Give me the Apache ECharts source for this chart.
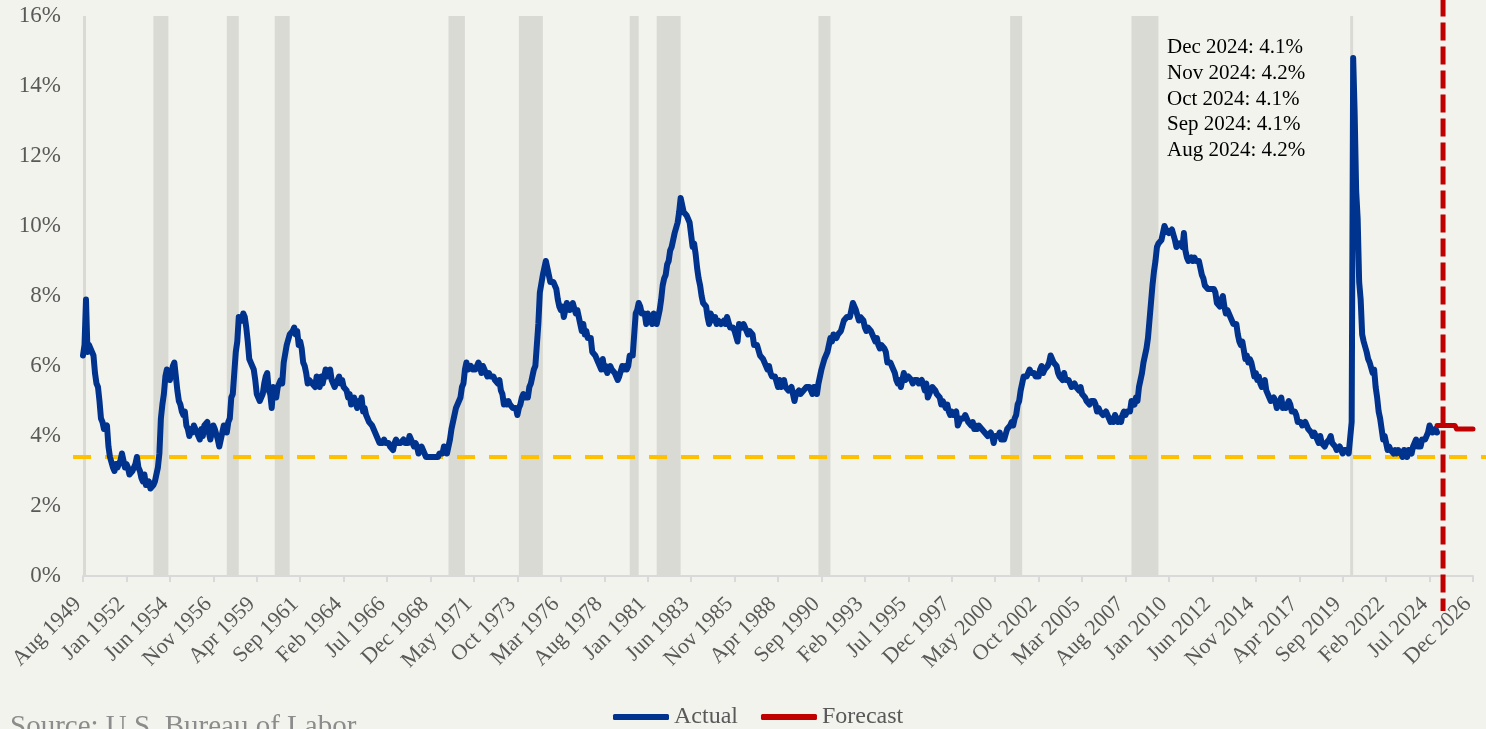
<!DOCTYPE html>
<html>
<head>
<meta charset="utf-8">
<script src="https://cdn.jsdelivr.net/npm/echarts@6/dist/echarts.min.js"></script>
<style>
html, body { margin: 0; padding: 0; background: #f3f3ee; }
#main { width: 1486px; height: 729px; }
</style>
</head>
<body>
<div id="main"></div>
<script>
// axis runs monthly from Aug 1949 to Dec 2026
var firstYear = 1949, firstMonth = 7, monthTotal = 929;
var monthNames = ['Jan', 'Feb', 'Mar', 'Apr', 'May', 'Jun', 'Jul', 'Aug', 'Sep', 'Oct', 'Nov', 'Dec'];

// unemployment rate, %, Aug 1949 .. Dec 2024
var actual = [
    6.3, 6.6, 7.9, 6.4, 6.6,
    6.5, 6.4, 6.3, 5.8, 5.5, 5.4, 5.0, 4.5, 4.4, 4.2, 4.2, 4.3,
    3.7, 3.4, 3.4, 3.1, 3.0, 3.2, 3.1, 3.1, 3.3, 3.5, 3.5, 3.1,
    3.2, 3.1, 2.9, 2.9, 3.0, 3.0, 3.2, 3.4, 3.1, 3.0, 2.8, 2.7,
    2.9, 2.6, 2.6, 2.7, 2.5, 2.5, 2.6, 2.7, 2.9, 3.1, 3.5, 4.5,
    4.9, 5.2, 5.7, 5.9, 5.9, 5.6, 5.8, 6.0, 6.1, 5.7, 5.3, 5.0,
    4.9, 4.7, 4.6, 4.7, 4.3, 4.2, 4.0, 4.2, 4.1, 4.3, 4.2, 4.2,
    4.0, 3.9, 4.2, 4.0, 4.3, 4.3, 4.4, 4.1, 3.9, 3.9, 4.3, 4.2,
    4.2, 3.9, 3.7, 3.9, 4.1, 4.3, 4.2, 4.1, 4.4, 4.5, 5.1, 5.2,
    5.8, 6.4, 6.7, 7.4, 7.4, 7.3, 7.5, 7.4, 7.1, 6.7, 6.2, 6.2,
    6.0, 5.9, 5.6, 5.2, 5.1, 5.0, 5.1, 5.2, 5.5, 5.7, 5.8, 5.3,
    5.2, 4.8, 5.4, 5.2, 5.1, 5.4, 5.5, 5.6, 5.5, 6.1, 6.1, 6.6,
    6.6, 6.9, 6.9, 7.0, 7.1, 6.9, 7.0, 6.6, 6.7, 6.5, 6.1, 6.0,
    5.8, 5.5, 5.6, 5.6, 5.5, 5.5, 5.4, 5.7, 5.6, 5.4, 5.7, 5.5,
    5.7, 5.9, 5.7, 5.7, 5.9, 5.6, 5.6, 5.4, 5.5, 5.5, 5.7, 5.5,
    5.6, 5.4, 5.4, 5.3, 5.1, 5.2, 4.9, 5.0, 5.1, 5.1, 4.8, 5.0,
    4.9, 5.1, 4.7, 4.8, 4.6, 4.6, 4.4, 4.4, 4.3, 4.2, 4.1, 4.0,
    4.0, 3.8, 3.8, 3.8, 3.9, 3.8, 3.8, 3.8, 3.7, 3.7, 3.6, 3.8,
    3.9, 3.8, 3.8, 3.8, 3.8, 3.9, 3.8, 3.8, 3.8, 4.0, 3.9, 3.8,
    3.7, 3.8, 3.7, 3.5, 3.5, 3.7, 3.7, 3.5, 3.4, 3.4, 3.4, 3.4,
    3.4, 3.4, 3.4, 3.4, 3.4, 3.5, 3.5, 3.5, 3.7, 3.7, 3.5, 3.5,
    3.9, 4.2, 4.4, 4.6, 4.8, 4.9, 5.0, 5.1, 5.4, 5.5, 5.9, 6.1,
    5.9, 5.9, 6.0, 5.9, 5.9, 5.9, 6.0, 6.1, 6.0, 5.8, 6.0, 6.0,
    5.8, 5.7, 5.8, 5.7, 5.7, 5.7, 5.6, 5.6, 5.5, 5.6, 5.3, 5.2,
    4.9, 5.0, 4.9, 5.0, 4.9, 4.9, 4.8, 4.8, 4.8, 4.6, 4.8, 4.9,
    5.1, 5.2, 5.1, 5.1, 5.1, 5.4, 5.5, 5.5, 5.9, 6.0, 6.6, 7.2,
    8.1, 8.1, 8.6, 8.8, 9.0, 8.8, 8.6, 8.4, 8.4, 8.4, 8.3, 8.2,
    7.9, 7.7, 7.6, 7.7, 7.4, 7.6, 7.8, 7.8, 7.6, 7.7, 7.8, 7.8,
    7.5, 7.6, 7.4, 7.2, 7.0, 7.2, 6.9, 7.0, 6.8, 6.8, 6.8, 6.4,
    6.4, 6.3, 6.3, 6.1, 6.0, 5.9, 6.2, 5.9, 6.0, 5.8, 5.9, 6.0,
    5.9, 5.9, 5.8, 5.8, 5.6, 5.7, 5.7, 6.0, 5.9, 6.0, 5.9, 6.0,
    6.3, 6.3, 6.3, 6.9, 7.5, 7.6, 7.8, 7.7, 7.5, 7.5, 7.5, 7.2,
    7.5, 7.4, 7.4, 7.2, 7.5, 7.5, 7.2, 7.4, 7.6, 7.9, 8.3, 8.5,
    8.6, 8.9, 9.0, 9.3, 9.4, 9.6, 9.8, 9.8, 10.1, 10.4, 10.8, 10.8,
    10.4, 10.4, 10.3, 10.2, 10.1, 10.1, 9.4, 9.5, 9.2, 8.8, 8.5, 8.3,
    8.0, 7.8, 7.8, 7.7, 7.4, 7.2, 7.5, 7.5, 7.3, 7.4, 7.2, 7.3,
    7.3, 7.2, 7.2, 7.3, 7.2, 7.4, 7.4, 7.1, 7.1, 7.1, 7.0, 7.0,
    6.7, 7.2, 7.2, 7.1, 7.2, 7.2, 7.0, 6.9, 7.0, 7.0, 6.9, 6.6,
    6.6, 6.6, 6.6, 6.3, 6.3, 6.2, 6.1, 6.0, 5.9, 6.0, 5.8, 5.7,
    5.7, 5.7, 5.7, 5.4, 5.6, 5.4, 5.4, 5.6, 5.4, 5.4, 5.3, 5.3,
    5.4, 5.2, 5.0, 5.2, 5.2, 5.3, 5.2, 5.2, 5.3, 5.3, 5.4, 5.4,
    5.4, 5.3, 5.2, 5.4, 5.4, 5.2, 5.5, 5.7, 5.9, 5.9, 6.2, 6.3,
    6.4, 6.6, 6.8, 6.7, 6.9, 6.9, 6.8, 6.9, 6.9, 7.0, 7.0, 7.3,
    7.3, 7.4, 7.4, 7.4, 7.6, 7.8, 7.7, 7.6, 7.6, 7.3, 7.4, 7.4,
    7.3, 7.1, 7.0, 7.1, 7.1, 7.0, 6.9, 6.8, 6.7, 6.8, 6.6, 6.5,
    6.6, 6.6, 6.5, 6.4, 6.1, 6.1, 6.1, 6.0, 5.9, 5.8, 5.6, 5.5,
    5.6, 5.4, 5.4, 5.8, 5.6, 5.6, 5.7, 5.7, 5.6, 5.5, 5.6, 5.6,
    5.6, 5.5, 5.5, 5.6, 5.6, 5.3, 5.5, 5.1, 5.2, 5.2, 5.4, 5.4,
    5.3, 5.2, 5.2, 5.1, 4.9, 5.0, 4.9, 4.8, 4.9, 4.7, 4.6, 4.7,
    4.6, 4.6, 4.7, 4.3, 4.4, 4.5, 4.5, 4.5, 4.6, 4.5, 4.4, 4.4,
    4.3, 4.4, 4.2, 4.3, 4.2, 4.3, 4.3, 4.2, 4.2, 4.1, 4.1, 4.0,
    4.0, 4.1, 4.0, 3.8, 4.0, 4.0, 4.0, 4.1, 3.9, 3.9, 3.9, 3.9,
    4.2, 4.2, 4.3, 4.4, 4.3, 4.5, 4.6, 4.9, 5.0, 5.3, 5.5, 5.7,
    5.7, 5.7, 5.7, 5.9, 5.8, 5.8, 5.8, 5.7, 5.7, 5.7, 5.9, 6.0,
    5.8, 5.9, 5.9, 6.0, 6.1, 6.3, 6.2, 6.1, 6.1, 6.0, 5.8, 5.7,
    5.7, 5.6, 5.8, 5.6, 5.6, 5.6, 5.5, 5.4, 5.4, 5.5, 5.4, 5.4,
    5.3, 5.4, 5.2, 5.2, 5.1, 5.0, 5.0, 4.9, 5.0, 5.0, 5.0, 4.9,
    4.7, 4.8, 4.7, 4.7, 4.6, 4.6, 4.7, 4.7, 4.5, 4.4, 4.5, 4.4,
    4.6, 4.5, 4.4, 4.5, 4.4, 4.6, 4.7, 4.6, 4.7, 4.7, 4.7, 5.0,
    5.0, 4.9, 5.1, 5.0, 5.4, 5.6, 5.8, 6.1, 6.1, 6.5, 6.8, 7.3,
    7.8, 8.3, 8.7, 9.0, 9.4, 9.5, 9.5, 9.6, 9.8, 10.0, 9.9, 9.9,
    9.8, 9.8, 9.9, 9.9, 9.6, 9.4, 9.4, 9.5, 9.5, 9.4, 9.8, 9.3,
    9.1, 9.0, 9.0, 9.1, 9.0, 9.1, 9.0, 9.0, 9.0, 8.8, 8.6, 8.5,
    8.3, 8.3, 8.2, 8.2, 8.2, 8.2, 8.2, 8.1, 7.8, 7.8, 7.7, 7.9,
    8.0, 7.7, 7.5, 7.6, 7.5, 7.5, 7.3, 7.2, 7.2, 7.2, 6.9, 6.7,
    6.6, 6.7, 6.7, 6.2, 6.3, 6.1, 6.2, 6.1, 5.9, 5.7, 5.8, 5.6,
    5.7, 5.5, 5.4, 5.4, 5.6, 5.3, 5.2, 5.1, 5.0, 5.0, 5.1, 5.0,
    4.8, 4.9, 5.0, 5.1, 4.8, 4.9, 4.8, 4.9, 5.0, 4.9, 4.7, 4.7,
    4.7, 4.6, 4.4, 4.4, 4.4, 4.3, 4.3, 4.4, 4.3, 4.2, 4.2, 4.1,
    4.0, 4.1, 4.0, 4.0, 3.8, 4.0, 3.8, 3.8, 3.7, 3.8, 3.8, 3.9,
    4.0, 3.8, 3.8, 3.7, 3.6, 3.6, 3.7, 3.6, 3.5, 3.6, 3.6, 3.6,
    3.5, 3.5, 4.4, 14.8, 13.2, 11.0, 10.2, 8.4, 7.9, 6.9, 6.7, 6.7,
    6.4, 6.2, 6.1, 6.1, 5.8, 5.9, 5.4, 5.1, 4.7, 4.5, 4.2, 3.9,
    4.0, 3.8, 3.6, 3.7, 3.6, 3.6, 3.5, 3.6, 3.5, 3.6, 3.6, 3.5,
    3.4, 3.6, 3.5, 3.4, 3.6, 3.6, 3.5, 3.7, 3.8, 3.9, 3.7, 3.7,
    3.7, 3.9, 3.9, 3.9, 4.0, 4.1, 4.3, 4.2, 4.1, 4.1, 4.2, 4.1
];

// forecast, %, Dec 2024 .. Dec 2026
var forecastFrom = 'Dec 2024';
var forecast = [4.3, 4.3, 4.3, 4.3, 4.3, 4.3, 4.3, 4.3, 4.3, 4.3, 4.3, 4.3, 4.3,
                4.2, 4.2, 4.2, 4.2, 4.2, 4.2, 4.2, 4.2, 4.2, 4.2, 4.2, 4.2];

// recession shading (start, end)
var recessions = [
    ['Aug 1949', 'Oct 1949'], ['Jul 1953', 'May 1954'], ['Aug 1957', 'Apr 1958'],
    ['Apr 1960', 'Feb 1961'], ['Dec 1969', 'Nov 1970'], ['Nov 1973', 'Mar 1975'],
    ['Jan 1980', 'Jul 1980'], ['Jul 1981', 'Nov 1982'], ['Jul 1990', 'Mar 1991'],
    ['Mar 2001', 'Nov 2001'], ['Dec 2007', 'Jun 2009'], ['Feb 2020', 'Apr 2020']
];

var lowLine = 3.4;
var dividerMonth = 'Apr 2025';

var months = [];
for (var i = 0; i < monthTotal; i++) {
    var m = firstMonth + i;
    months.push(monthNames[m % 12] + ' ' + (firstYear + Math.floor(m / 12)));
}

var actualData = actual.slice();
var forecastData = [];
var fStart = months.indexOf(forecastFrom);
for (var j = 0; j < monthTotal; j++) {
    forecastData.push(j >= fStart && j - fStart < forecast.length ? forecast[j - fStart] : null);
}

// latest five readings, newest first
var noteLines = [];
for (var k = actual.length - 1; k >= actual.length - 5; k--) {
    noteLines.push(months[k] + ': ' + actual[k].toFixed(1) + '%');
}

var serif = '"Liberation Serif", "Times New Roman", serif';
var chart = echarts.init(document.getElementById('main'));

var option = {
    backgroundColor: '#f3f3ee',
    animation: false,
    grid: { left: 83, right: 13, top: 16, bottom: 153 },
    title: [
        {
            text: 'Source: U.S. Bureau of Labor',
            left: 10, top: 713, padding: 0,
            textStyle: { fontFamily: serif, fontSize: 29, fontWeight: 'normal', color: '#8c8c8c' }
        },
        {
            text: noteLines.join('\n'),
            left: 1167, top: 35, padding: 0,
            textStyle: { fontFamily: serif, fontSize: 21, fontWeight: 'normal', color: '#000', lineHeight: 25.7 }
        }
    ],
    legend: {
        data: ['Actual', 'Forecast'],
        left: 613, top: 705, padding: 0,
        icon: 'roundRect',
        itemWidth: 56, itemHeight: 6, itemGap: 23,
        textStyle: { fontFamily: serif, fontSize: 24, color: '#595959' }
    },
    xAxis: {
        type: 'category',
        data: months,
        boundaryGap: false,
        axisLine: { lineStyle: { color: '#d9d9d9', width: 2 } },
        axisTick: { interval: 28, length: 6, lineStyle: { color: '#d9d9d9', width: 2 } },
        axisLabel: {
            interval: 28, rotate: 45, margin: 20, padding: [0, 7, 0, 0],
            fontFamily: serif, fontSize: 22, color: '#595959'
        }
    },
    yAxis: {
        type: 'value',
        min: 0, max: 16, interval: 2,
        axisLine: { show: false },
        axisTick: { show: false },
        splitLine: { show: false },
        axisLabel: { formatter: '{value}%', margin: 22, fontFamily: serif, fontSize: 23, color: '#595959' }
    },
    series: [
        {
            name: 'Recession',
            type: 'line',
            data: [],
            z: 1,
            markArea: {
                silent: true,
                itemStyle: { color: '#dadad5' },
                data: recessions.map(function (r) { return [{ xAxis: r[0] }, { xAxis: r[1] }]; })
            }
        },
        {
            name: 'Actual',
            type: 'line',
            data: actualData,
            symbol: 'none',
            z: 10,
            itemStyle: { color: '#00338d' },
            lineStyle: { color: '#00338d', width: 6, cap: 'round', join: 'round' }
        },
        {
            name: 'Forecast',
            type: 'line',
            data: forecastData,
            symbol: 'none',
            z: 11,
            itemStyle: { color: '#c00000' },
            lineStyle: { color: '#c00000', width: 5, cap: 'round', join: 'round' }
        }
    ]
};

chart.setOption(option);

// the two reference lines run past the plot area, so place them from the axes' own pixel mapping
function drawGuides() {
    var grid = { gridIndex: 0 };
    var lowLeft = chart.convertToPixel(grid, [months[0], lowLine]);
    var lowRight = chart.convertToPixel(grid, [months[monthTotal - 1], lowLine]);
    var divTop = chart.convertToPixel(grid, [dividerMonth, 16.5]);
    var divBottom = chart.convertToPixel(grid, [dividerMonth, -1]);
    chart.setOption({
        graphic: [
            {
                type: 'line', z: 5, silent: true,
                shape: { x1: lowLeft[0] - 10, y1: lowLeft[1], x2: chart.getWidth(), y2: lowRight[1] },
                style: { stroke: '#ffc000', lineWidth: 4, lineDash: [18, 14] }
            },
            {
                type: 'line', z: 50, silent: true,
                shape: { x1: divTop[0], y1: divTop[1], x2: divBottom[0], y2: divBottom[1] },
                style: { stroke: '#c00000', lineWidth: 5, lineDash: [18, 6] }
            }
        ]
    });
}
drawGuides();

window.addEventListener('resize', function () {
    chart.resize();
    drawGuides();
});
</script>
</body>
</html>
